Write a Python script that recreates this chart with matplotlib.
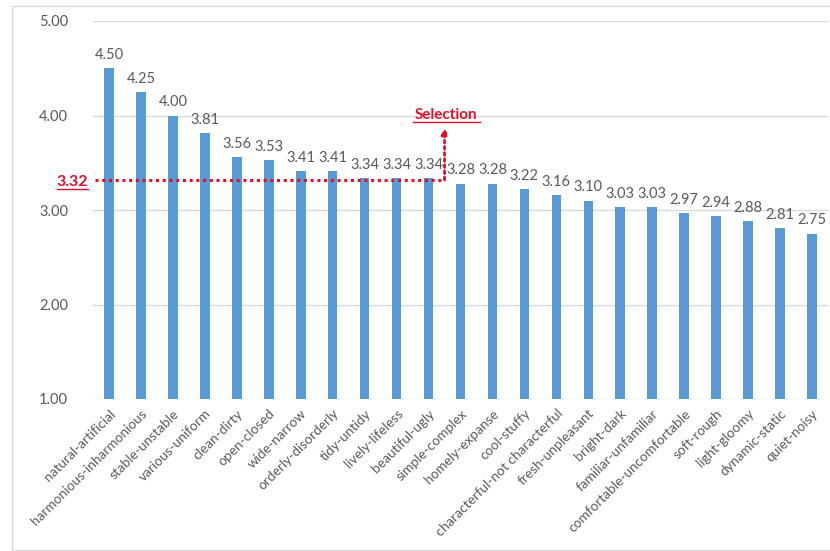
import matplotlib
matplotlib.use("Agg")
import matplotlib.pyplot as plt
from matplotlib.patches import Rectangle

CATEGORIES = [
    "natural-artificial", "harmonious-inharmonious", "stable-unstable",
    "various-uniform", "clean-dirty", "open-closed", "wide-narrow",
    "orderly-disorderly", "tidy-untidy", "lively-lifeless", "beautiful-ugly",
    "simple-complex", "homely-expanse", "cool-stuffy",
    "characterful-not characterful", "fresh-unpleasant", "bright-dark",
    "familiar-unfamiliar", "comfortable-uncomfortable", "soft-rough",
    "light-gloomy", "dynamic-static", "quiet-noisy",
]
VALUES = [4.50, 4.25, 4.00, 3.81, 3.56, 3.53, 3.41, 3.41, 3.34, 3.34, 3.34,
          3.28, 3.28, 3.22, 3.16, 3.10, 3.03, 3.03, 2.97, 2.94, 2.88, 2.81, 2.75]
Y_TICKS = [1.0, 2.0, 3.0, 4.0, 5.0]
THRESHOLD = 3.32
CUT_INDEX = 10.5

BAR_COLOR = "#5B9BD5"
TEXT_COLOR = "#595959"
GRID_COLOR = "#D9D9D9"
RED = "#E0102B"

plt.rcParams["font.family"] = ["Lato", "DejaVu Sans"]

fig = plt.figure(figsize=(8.3, 5.51), dpi=100)
fig.patches.append(Rectangle((12 / 830, 0.002), 1.0, 0.988, transform=fig.transFigure,
                             fill=False, edgecolor="#D9D9D9", linewidth=1))
ax = fig.add_axes([93 / 830, 1 - 399 / 551, 735 / 830, (399 - 21) / 551])

x = range(len(CATEGORIES))
ax.bar(x, [v - 1.0 for v in VALUES], bottom=1.0, width=0.3, color=BAR_COLOR, zorder=3)

for i, v in enumerate(VALUES):
    ax.text(i, v + 0.065, f"{v:.2f}", ha="center", va="bottom", fontsize=10.5,
            color=TEXT_COLOR, zorder=4)

ax.set_xlim(-0.5, len(CATEGORIES) - 0.5)
ax.set_ylim(1.0, 5.0)
ax.set_yticks(Y_TICKS)
ax.set_yticklabels([f"{t:.2f}" for t in Y_TICKS], fontsize=10.5, color=TEXT_COLOR)
ax.set_xticks(list(x))
ax.set_xticklabels(CATEGORIES, rotation=45, ha="right", rotation_mode="anchor",
                   fontsize=9.8, color=TEXT_COLOR)
ax.tick_params(axis="both", length=0)
ax.tick_params(axis="y", pad=18)
ax.tick_params(axis="x", pad=6)
ax.grid(True, axis="y", color=GRID_COLOR, linewidth=1, zorder=0)
for side in ["top", "right", "left", "bottom"]:
    ax.spines[side].set_visible(False)

# selection threshold
ax.plot([-0.45, CUT_INDEX], [THRESHOLD, THRESHOLD], linestyle=(0, (1, 1.2)),
        color=RED, linewidth=2.2, zorder=5, clip_on=False)
ax.annotate("", xy=(CUT_INDEX, 3.87), xytext=(CUT_INDEX, THRESHOLD),
            arrowprops=dict(arrowstyle="-|>", linestyle=(0, (1, 1.2)), color=RED,
                            linewidth=2.0, mutation_scale=9, shrinkA=0, shrinkB=0),
            zorder=5)
ax.text(10.56, 3.963, "Selection", ha="center", va="baseline", fontsize=11,
        fontweight="bold", color=RED)
ax.plot([9.5, 11.62], [3.935, 3.935], color=RED, linewidth=1)
ax.text(-0.66, 3.25, "3.32", ha="right", va="baseline", fontsize=11.5,
        fontweight="bold", color=RED, clip_on=False)
ax.plot([-1.63, -0.66], [3.227, 3.227], color=RED, linewidth=1, clip_on=False)

fig.savefig("out.png", dpi=100)
